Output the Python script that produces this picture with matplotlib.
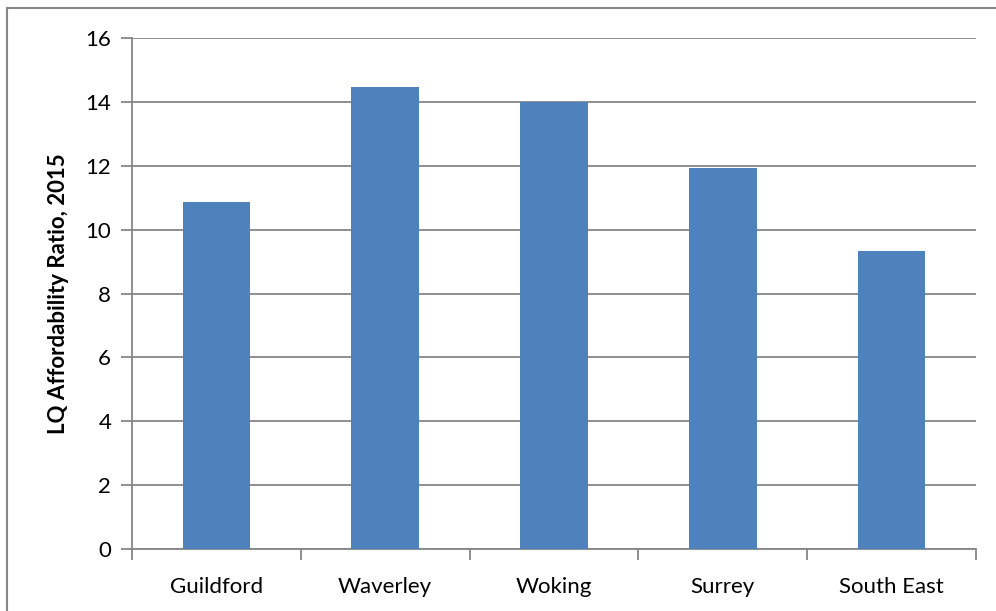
import matplotlib as mpl
mpl.use('Agg')
import matplotlib.pyplot as plt
import matplotlib.patches as mpatches
import numpy as np

# --- data ---------------------------------------------------------------
areas = ['Guildford', 'Waverley', 'Woking', 'Surrey', 'South East']
ratios = [10.85, 14.48, 14.0, 11.94, 9.34]
y_ticks = [0, 2, 4, 6, 8, 10, 12, 14, 16]

# --- style --------------------------------------------------------------
plt.rcParams['font.family'] = ['Lato', 'DejaVu Sans']
BAR_COLOUR = '#4f81bd'
AXIS_GREY = '#868686'
FS = 16

fig = plt.figure(figsize=(9.96, 6.11), dpi=100)
ax = fig.add_axes([132 / 996, 1 - 549 / 611, (976 - 132) / 996, (549 - 38) / 611])

x = np.arange(len(areas))
ax.bar(x, ratios, width=0.4, color=BAR_COLOUR, zorder=3)

ax.set_xlim(-0.5, len(areas) - 0.5)
ax.set_ylim(0, 16)
ax.set_yticks(y_ticks)
ax.set_yticklabels([str(t) for t in y_ticks], fontsize=FS)
ax.yaxis.grid(True, color=AXIS_GREY, linewidth=1.3, zorder=0)
ax.set_axisbelow(True)

# category labels centred, ticks on category boundaries
ax.set_xticks(x)
ax.set_xticklabels(areas, fontsize=FS)
ax.tick_params(axis='x', length=0, pad=20)
ax.set_xticks(np.arange(-0.5, len(areas)), minor=True)
ax.tick_params(axis='x', which='minor', length=8, color=AXIS_GREY, width=1.3)
ax.tick_params(axis='y', length=8, color=AXIS_GREY, width=1.3, pad=7)

for side in ['top', 'right']:
    ax.spines[side].set_visible(False)
for side in ['left', 'bottom']:
    ax.spines[side].set_color(AXIS_GREY)
    ax.spines[side].set_linewidth(1.3)

ax.set_ylabel('LQ Affordability Ratio, 2015', fontsize=FS, fontweight='bold', labelpad=12)

# outer chart border (right/bottom edges fall outside the image)
fig.patches.append(mpatches.Rectangle((7 / 996, -0.05), 1.1, 1 - 8 / 611 + 0.05,
                                      transform=fig.transFigure, fill=False,
                                      edgecolor=AXIS_GREY, linewidth=1.5))

fig.savefig('out.png', dpi=100)
